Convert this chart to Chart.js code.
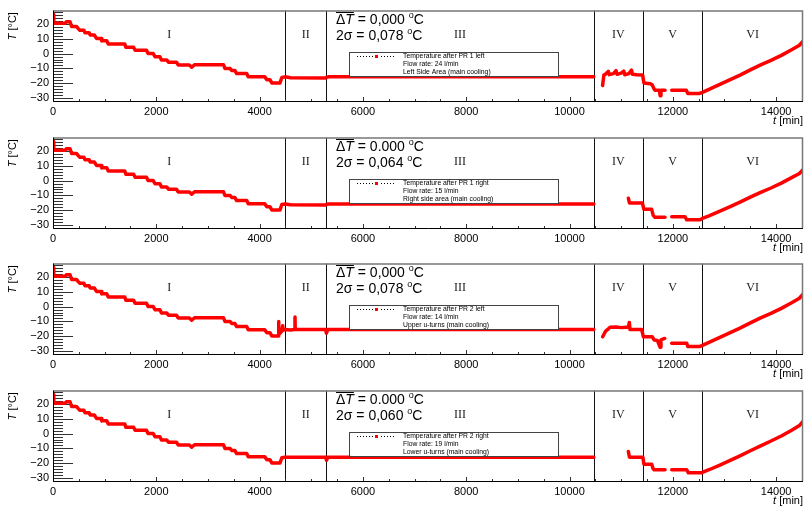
<!DOCTYPE html>
<html><head><meta charset="utf-8">
<script src="https://cdn.jsdelivr.net/npm/chart.js@4.4.1/dist/chart.umd.min.js"></script>
<style>
html,body{margin:0;padding:0;background:#fff;width:807px;height:506px;overflow:hidden}
.p{position:absolute;left:0;width:807px;height:126px}
</style></head><body>
<div class="p" style="top:0px"><canvas id="c0" width="807" height="126"></canvas></div>
<div class="p" style="top:127px"><canvas id="c1" width="807" height="126"></canvas></div>
<div class="p" style="top:253px"><canvas id="c2" width="807" height="126"></canvas></div>
<div class="p" style="top:380px"><canvas id="c3" width="807" height="126"></canvas></div>
<script>
// ---------- data ----------
const regionBounds = [4500, 5290, 10470, 11420, 12570];
const regionNames = ['I', 'II', 'III', 'IV', 'V', 'VI'];
const xMin = 0, xMax = 14520, yMin = -32, yMax = 29;
const xTickValues = [0, 2000, 4000, 6000, 8000, 10000, 12000, 14000];
const yTickValues = [-30, -20, -10, 0, 10, 20];

// common cooling profile of region I (all four sensors)
const timesI = [0, 15, 230, 260, 330, 360, 455, 480, 520, 600, 620, 700, 720, 800, 845, 930, 945, 1040, 1070, 1390, 1410, 1560, 1590, 1810, 1840, 1940, 1975, 2070, 2100, 2200, 2235, 2390, 2425, 2640, 2685, 2740, 3300, 3330, 3430, 3460, 3520, 3555, 3750, 3780, 4100, 4140, 4200, 4235];
const tempsI = [26.3, 20.4, 20.4, 21.5, 21.5, 18.3, 18.3, 17.2, 15.7, 15.7, 14, 14, 12.5, 12.5, 10.1, 10.1, 8.6, 8.6, 6.5, 6.5, 4.3, 4.3, 2.2, 2.2, 0, 0, -2.1, -2.1, -4.3, -4.3, -5.8, -5.8, -7.7, -7.7, -9.2, -7.5, -7.5, -10.1, -10.1, -11.4, -11.4, -13.5, -13.5, -15.7, -15.7, -17.6, -17.6, -19.8];

// PR 1 left
const times1 = [4395, 4430, 4490, 4600, 5280, 5300, 5330, 10470, 10550, 10640, 10665, 10700, 10750, 10770, 10850, 10900, 10920, 11000, 11050, 11070, 11150, 11200, 11220, 11300, 11415, 11440, 11560, 11600, 11640, 11660, 11740, 11755, 11770, 11850, 11900, 11978, 12260, 12290, 12520, 12572, 12700, 12900, 13100, 13300, 13500, 13700, 13900, 14100, 14300, 14450, 14520];
const temps1 = [-19.8, -16.1, -15.7, -16.3, -16.5, -16.0, -15.7, -15.7, null, -21.5, -14.5, -13.8, -12.0, -14.2, -13.5, -11.5, -14.0, -13.2, -11.8, -14.3, -13.5, -11.2, -14.0, -14.3, -14.5, -19.8, -20.3, -21.0, -24.0, -24.7, -24.7, -28.4, -24.7, -24.7, null, -24.7, -24.7, -26.9, -26.9, -26.2, -24.2, -21.0, -17.8, -14.5, -11.0, -7.6, -4.6, -1.2, 2.6, 5.6, 8.3];
// PR 1 right
const times2 = [4395, 4430, 4490, 4600, 5280, 5300, 5330, 10470, 10550, 11139, 11160, 11410, 11440, 11590, 11620, 11655, 11849, 11900, 11978, 12236, 12269, 12527, 12572, 12700, 12900, 13100, 13300, 13500, 13700, 13900, 14100, 14300, 14450, 14520];
const temps2 = [-19.8, -16.1, -15.8, -16.3, -16.5, -16.0, -15.8, -15.8, null, -11.9, -15.1, -15.1, -19.4, -19.4, -23.5, -24.8, -24.8, null, -24.4, -24.4, -26.5, -26.5, -25.5, -23.8, -20.8, -17.7, -14.5, -11.2, -8.0, -5.0, -1.7, 2.0, 4.8, 7.4];
// PR 2 left
const times3 = [4360, 4369, 4371, 4430, 4447, 4449, 4490, 4600, 4680, 4685, 4690, 4800, 5280, 5292, 5320, 10470, 10550, 10642, 10700, 10752, 10784, 10900, 11000, 11100, 11139, 11158, 11171, 11200, 11397, 11430, 11600, 11640, 11700, 11754, 11770, 11842, 11900, 11978, 12269, 12290, 12527, 12572, 12700, 12900, 13100, 13300, 13500, 13700, 13900, 14100, 14300, 14450, 14520];
const temps3 = [-19.8, -10.0, -19.0, -16.5, -13.0, -16.0, -15.5, -15.8, -15.5, -7.0, -15.5, -15.5, -15.5, -18.0, -15.5, -15.5, null, -20.4, -16.5, -15.0, -14.0, -13.8, -14.2, -13.9, -14.0, -10.7, -15.5, -15.5, -15.5, -20.4, -20.4, -22.5, -22.8, -27.5, -22.5, -21.5, null, -24.7, -24.7, -26.9, -26.9, -26.2, -24.2, -21.0, -17.8, -14.5, -11.0, -7.6, -4.6, -1.2, 2.6, 5.6, 8.3];
// PR 2 right
const times4 = [4395, 4430, 4490, 4600, 5280, 5295, 5320, 10470, 10550, 11139, 11160, 11420, 11440, 11591, 11620, 11637, 11850, 11900, 11978, 12269, 12301, 12559, 12572, 12700, 12900, 13100, 13300, 13500, 13700, 13900, 14100, 14300, 14450, 14520];
const temps4 = [-19.8, -16.3, -16.0, -16.0, -16.0, -18.0, -16.0, -16.0, null, -12.1, -16.0, -16.0, -20.7, -20.7, -23.8, -24.4, -24.4, null, -24.4, -24.4, -26.5, -26.5, -26.2, -24.4, -21.4, -18.3, -15.0, -11.6, -8.3, -5.0, -1.6, 2.3, 5.4, 8.3];

const meanLabels = ['0,000', '0.000', '0,000', '0.000'];
const sigmaLabels = ['0,078', '0,064', '0,078', '0,060'];
const legendNames = ['Temperature after PR 1 left', 'Temperature after PR 1 right', 'Temperature after PR 2 left', 'Temperature after PR 2 right'];
const flowLabels = ['Flow rate: 24 l/min', 'Flow rate: 15 l/min', 'Flow rate: 14 l/min', 'Flow rate: 19 l/min'];
const areaLabels = ['Left Side Area (main cooling)', 'Right side area (main cooling)', 'Upper u-turns (main cooling)', 'Lower u-turns (main cooling)'];
const xTitle = ['t', ' [min]'];
const yTitle = ['T', ' [°C]'];

// ---------- drawing ----------
const panelTimes = [times1, times2, times3, times4];
const panelTemps = [temps1, temps2, temps3, temps4];
const SANS = '"Liberation Sans", Arial, sans-serif';
const SERIF = '"Liberation Serif", "Times New Roman", serif';

function fmt(v) { return v < 0 ? '\u2212' + Math.abs(v) : String(v); }

function makePlugin(k) {
  return {
    id: 'rootStyle' + k,
    beforeDatasetsDraw(chart) {
      const ctx = chart.ctx, a = chart.chartArea, x = chart.scales.x, y = chart.scales.y;
      ctx.save();
      ctx.strokeStyle = '#111'; ctx.lineWidth = 1;
      regionBounds.forEach(b => {
        const px = Math.round(x.getPixelForValue(b)) + 0.5;
        ctx.beginPath(); ctx.moveTo(px, a.top); ctx.lineTo(px, a.bottom); ctx.stroke();
      });
      // y ticks (inside, ROOT style)
      ctx.strokeStyle = '#333';
      for (let v = -32; v <= 28; v += 2) {
        const py = Math.round(y.getPixelForValue(v)) + 0.5;
        const len = (v % 10 === 0) ? 20 : 10;
        ctx.beginPath(); ctx.moveTo(a.left, py); ctx.lineTo(a.left + len, py); ctx.stroke();
      }
      // x ticks
      for (let v = 0; v <= xMax; v += 500) {
        const px = Math.round(x.getPixelForValue(v)) + 0.5;
        const len = (v % 2000 === 0) ? 4 : 2;
        ctx.beginPath(); ctx.moveTo(px, a.bottom); ctx.lineTo(px, a.bottom - len); ctx.stroke();
      }
      // region names
      ctx.fillStyle = '#222';
      ctx.font = '12px ' + SERIF;
      ctx.textAlign = 'center'; ctx.textBaseline = 'alphabetic';
      const edges = [xMin].concat(regionBounds, [xMax]);
      regionNames.forEach((n, i) => {
        const cx = x.getPixelForValue((edges[i] + edges[i + 1]) / 2);
        ctx.fillText(n, cx, a.top + 27);
      });
      ctx.restore();
    },
    afterDraw(chart) {
      const ctx = chart.ctx, a = chart.chartArea;
      ctx.save();
      // frame
      ctx.lineWidth = 1.5; ctx.strokeStyle = '#777';
      ctx.beginPath(); ctx.moveTo(a.left, a.top + 0.5); ctx.lineTo(a.right - 0.5, a.top + 0.5); ctx.lineTo(a.right - 0.5, a.bottom); ctx.stroke();
      ctx.lineWidth = 1; ctx.strokeStyle = '#000';
      ctx.beginPath(); ctx.moveTo(a.left + 0.5, a.top); ctx.lineTo(a.left + 0.5, a.bottom + 0.5); ctx.lineTo(a.right, a.bottom + 0.5); ctx.stroke();

      // axis titles
      ctx.fillStyle = '#000';
      ctx.font = 'italic 11px ' + SANS;
      const xw0 = ctx.measureText(xTitle[0]).width;
      ctx.font = '11px ' + SANS;
      const xw1 = ctx.measureText(xTitle[1]).width;
      ctx.textAlign = 'left'; ctx.textBaseline = 'alphabetic';
      const xs = a.right - xw0 - xw1, xb = a.bottom + 23;
      ctx.font = 'italic 11px ' + SANS; ctx.fillText(xTitle[0], xs, xb);
      ctx.font = '11px ' + SANS; ctx.fillText(xTitle[1], xs + xw0, xb);

      ctx.save();
      ctx.translate(12.5, a.top + 1.5);
      ctx.rotate(-Math.PI / 2);
      ctx.font = 'italic 11px ' + SANS;
      const yw0 = ctx.measureText(yTitle[0]).width;
      ctx.font = '11px ' + SANS;
      const yw1 = ctx.measureText(yTitle[1]).width;
      ctx.textBaseline = 'middle';
      ctx.font = 'italic 11px ' + SANS; ctx.fillText(yTitle[0], -yw0 - yw1, 0);
      ctx.font = '11px ' + SANS; ctx.fillText(yTitle[1], -yw1, 0);
      ctx.restore();

      // statistics text
      const sx = 336, b1 = a.top + 13.5, b2 = a.top + 29.5;
      ctx.textBaseline = 'alphabetic'; ctx.textAlign = 'left';
      let cx = sx;
      ctx.font = '14px ' + SANS; ctx.fillText('\u0394', cx, b1); cx += ctx.measureText('\u0394').width;
      ctx.font = 'italic 14px ' + SANS; ctx.fillText('T', cx, b1); cx += ctx.measureText('T').width;
      ctx.lineWidth = 1; ctx.strokeStyle = '#000';
      ctx.beginPath(); ctx.moveTo(sx, Math.round(b1 - 12) + 0.5); ctx.lineTo(cx, Math.round(b1 - 12) + 0.5); ctx.stroke();
      function tail(str, cx0, base) {
        let c = cx0;
        ctx.font = '14px ' + SANS; ctx.fillText(str, c, base); c += ctx.measureText(str).width;
        ctx.font = '9px ' + SANS; ctx.fillText('o', c, base - 6); c += ctx.measureText('o').width;
        ctx.font = '14px ' + SANS; ctx.fillText('C', c, base);
      }
      tail(' = ' + meanLabels[k] + ' ', cx, b1);
      tail('2\u03c3 = ' + sigmaLabels[k] + ' ', sx, b2);

      // legend box
      const lx = 349.5, ly = Math.round(a.top + 41) + 0.5, lw = 209, lh = 24;
      ctx.fillStyle = '#fff'; ctx.fillRect(lx, ly, lw, lh);
      ctx.strokeStyle = '#444'; ctx.lineWidth = 1; ctx.strokeRect(lx, ly, lw, lh);
      const ey = ly + 3.5;
      ctx.fillStyle = '#000';
      for (let dx = 357; dx <= 395; dx += 3) { if (Math.abs(dx - 376) > 2) ctx.fillRect(dx, ey, 1, 1); }
      ctx.fillStyle = '#ff0000'; ctx.fillRect(375, ey - 1, 3, 3);
      ctx.fillStyle = '#000';
      ctx.font = '6.8px ' + SANS; ctx.textBaseline = 'middle';
      ctx.fillText(legendNames[k], 403, ly + 4);
      ctx.fillText(flowLabels[k], 403, ly + 11.8);
      ctx.fillText(areaLabels[k], 403, ly + 20);
      ctx.restore();
    }
  };
}

for (let k = 0; k < 4; k++) {
  const ts = timesI.concat(panelTimes[k]);
  const vs = tempsI.concat(panelTemps[k]);
  const pts = ts.map((t, i) => ({ x: t, y: vs[i] }));
  new Chart(document.getElementById('c' + k), {
    type: 'line',
    data: { datasets: [{
      label: legendNames[k], data: pts,
      borderColor: '#ff0000', backgroundColor: '#ff0000', borderWidth: 3.5,
      pointRadius: 0, spanGaps: false, tension: 0,
      borderCapStyle: 'round', borderJoinStyle: 'round'
    }] },
    options: {
      responsive: false, animation: false, devicePixelRatio: 1,
      layout: { padding: { left: 0, right: 4, top: 6, bottom: 0 } },
      plugins: { legend: { display: false }, tooltip: { enabled: false } },
      scales: {
        x: {
          type: 'linear', min: xMin, max: xMax,
          grid: { display: false, drawTicks: false }, border: { display: false },
          afterBuildTicks: s => { s.ticks = xTickValues.map(v => ({ value: v })); },
          ticks: { padding: 4, maxRotation: 0, minRotation: 0, autoSkip: false,
            color: '#000', font: { family: SANS, size: 11 }, callback: v => fmt(v) },
          afterFit: s => { s.height = 25; }
        },
        y: {
          type: 'linear', min: yMin, max: yMax,
          grid: { display: false, drawTicks: false }, border: { display: false },
          afterBuildTicks: s => { s.ticks = yTickValues.map(v => ({ value: v })); },
          ticks: { padding: 4, autoSkip: false,
            color: '#000', font: { family: SANS, size: 11 }, callback: v => fmt(v) },
          afterFit: s => { s.width = 53; }
        }
      }
    },
    plugins: [makePlugin(k)]
  });
}
</script>
</body></html>
